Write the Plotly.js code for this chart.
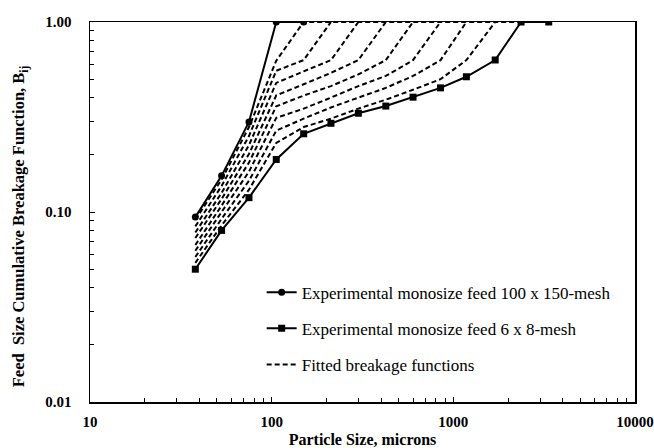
<!DOCTYPE html>
<html>
<head>
<meta charset="utf-8">
<script src="https://cdn.plot.ly/plotly-3.0.1.min.js"></script>
<style>html,body{margin:0;padding:0;background:#fff;}#chart{width:654px;height:448px;}</style>
</head>
<body>
<div id="chart"></div>
<script>
// Particle sizes (microns)
const sizes = [38, 53, 75, 106, 150, 212, 300, 425, 600, 850, 1180, 1700, 2360, 3350];

// Experimental monosize feed 100 x 150-mesh
const exp100x150 = [0.094, 0.155, 0.298, 1.0, 1.0];
// Experimental monosize feed 6 x 8-mesh
const exp6x8 = [0.050, 0.080, 0.119, 0.189, 0.258, 0.293, 0.331, 0.361, 0.402, 0.450, 0.515, 0.631, 1.0, 1.0];

// Fitted breakage functions (each starts at 38 microns)
const fitA = [0.091, 0.148, 0.280, 0.626, 1, 1, 1, 1, 1, 1, 1, 1, 1];
const fitB = [0.084, 0.137, 0.251, 0.554, 0.63, 1];
const fitC = [0.078, 0.126, 0.225, 0.478, 0.55, 0.63, 1];
const fitD = [0.073, 0.117, 0.202, 0.411, 0.47, 0.54, 0.63, 1];
const fitE = [0.067, 0.108, 0.182, 0.360, 0.41, 0.46, 0.53, 0.63, 1];
const fitF = [0.0625, 0.100, 0.163, 0.313, 0.35, 0.40, 0.46, 0.52, 0.63, 1];
const fitG = [0.058, 0.092, 0.146, 0.268, 0.31, 0.355, 0.40, 0.45, 0.52, 0.63, 1];
const fitH = [0.054, 0.085, 0.131, 0.231, 0.28, 0.31, 0.35, 0.39, 0.44, 0.50, 0.63, 1];
const fits = [fitA, fitB, fitC, fitD, fitE, fitF, fitG, fitH];

// Axis tick labels
const xTickVals = [10, 100, 1000, 10000];
const xTickText = ['10', '100', '1000', '10000'];
const yTickVals = [0.01, 0.1, 1];
const yTickText = ['0.01', '0.10', '1.00'];
const xMinor = [];
[10, 100, 1000].forEach(d => { for (let k = 2; k <= 9; k++) xMinor.push(k * d); });
const yMinor = [];
[0.01, 0.1].forEach(d => { for (let k = 2; k <= 9; k++) yMinor.push(k * d); });

const FONT = 'Liberation Serif, Times New Roman, serif';

const traces = [];
traces.push({
  x: sizes.slice(0, exp100x150.length), y: exp100x150, type: 'scatter', mode: 'lines+markers',
  name: 'Experimental monosize feed 100 x 150-mesh', legendgroup: 'circ', legendrank: 1,
  line: {color: '#000', width: 2}, marker: {symbol: 'circle', size: 7, color: '#000'}
});
traces.push({
  x: sizes.slice(0, exp6x8.length), y: exp6x8, type: 'scatter', mode: 'lines+markers',
  name: 'Experimental monosize feed 6 x 8-mesh', legendgroup: 'sq', legendrank: 2,
  line: {color: '#000', width: 2}, marker: {symbol: 'square', size: 7, color: '#000'}
});
fits.forEach((f, i) => {
  traces.push({
    x: sizes.slice(0, f.length), y: f, type: 'scatter', mode: 'lines',
    name: 'Fitted breakage functions', legendgroup: 'fit', legendrank: 3, showlegend: i === 0,
    line: {color: '#000', width: 2, dash: '5px,3px'}
  });
});

const layout = {
  width: 654, height: 448,
  margin: {l: 90, r: 19, t: 22, b: 46},
  paper_bgcolor: '#fff', plot_bgcolor: '#fff',
  font: {family: FONT, color: '#000', size: 15},
  showlegend: true,
  legend: {
    x: 0.315, y: 0.335, xanchor: 'left', yanchor: 'top',
    bgcolor: 'rgba(0,0,0,0)', traceorder: 'grouped', tracegroupgap: 11,
    font: {family: FONT, size: 17, color: '#000'}
  },
  xaxis: {
    type: 'log', range: [1, 4],
    showline: true, linecolor: '#000', linewidth: 1.5, mirror: true,
    showgrid: false, zeroline: false,
    tickmode: 'array', tickvals: xTickVals, ticktext: xTickText,
    ticks: 'inside', ticklen: 5, tickcolor: '#000', tickwidth: 1,
    ticklabelstandoff: 5,
    tickfont: {family: FONT, size: 15, color: '#000', weight: 'bold'},
    minor: {tickmode: 'array', tickvals: xMinor, ticks: 'inside', ticklen: 4, tickcolor: '#000', showgrid: false},
    title: {text: '<b>Particle Size, microns</b>', font: {family: FONT, size: 16, color: '#000'}, standoff: 5}
  },
  yaxis: {
    type: 'log', range: [-2, 0],
    showline: true, linecolor: '#000', linewidth: 1.5, mirror: true,
    showgrid: false, zeroline: false,
    tickmode: 'array', tickvals: yTickVals, ticktext: yTickText,
    ticks: 'inside', ticklen: 5, tickcolor: '#000', tickwidth: 1,
    ticklabelstandoff: 14,
    tickfont: {family: FONT, size: 15, color: '#000', weight: 'bold'},
    minor: {tickmode: 'array', tickvals: yMinor, ticks: 'inside', ticklen: 4, tickcolor: '#000', showgrid: false},
    title: {text: '<b>Feed  Size Cumulative Breakage Function, B<sub>ij</sub>&nbsp;&nbsp;&nbsp;&nbsp;&nbsp;&nbsp;&nbsp;</b>', font: {family: FONT, size: 16.5, color: '#000'}, standoff: 16}
  }
};

Plotly.newPlot('chart', traces, layout, {displayModeBar: false, staticPlot: true});
</script>
</body>
</html>
